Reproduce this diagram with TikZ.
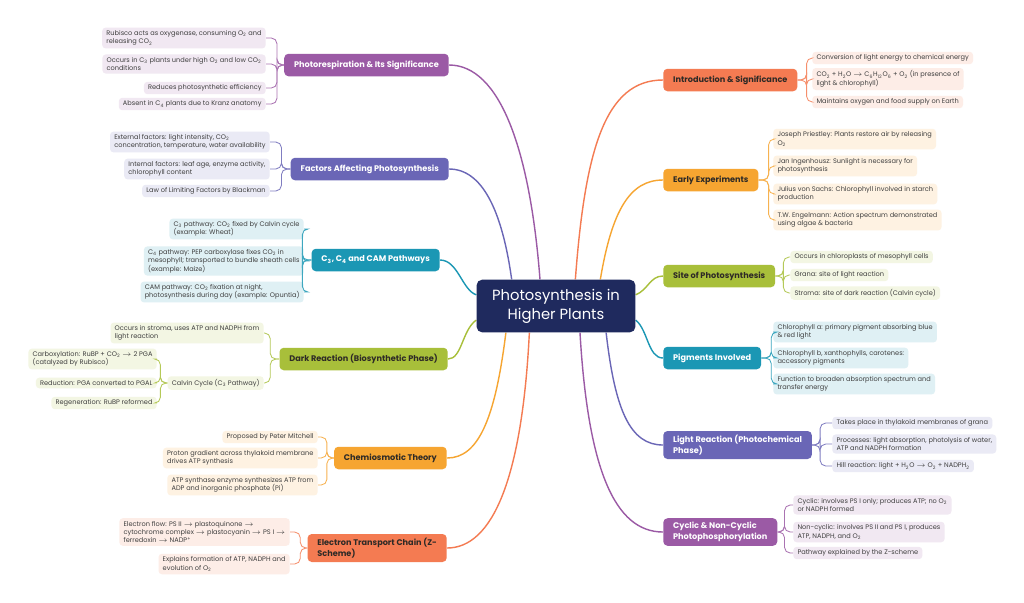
\documentclass[tikz,border=0pt]{standalone}
\usepackage{fontspec}
\setmainfont{Poppins}
\usetikzlibrary{backgrounds}
\definecolor{hubblue}{HTML}{1F2A5E}
\definecolor{cCoral}{HTML}{F47B52}
\definecolor{cAmber}{HTML}{F6A531}
\definecolor{cOlive}{HTML}{A8BF3A}
\definecolor{cTeal}{HTML}{1B97B4}
\definecolor{cViolet}{HTML}{6A66B6}
\definecolor{cPlum}{HTML}{9B5AA5}
\definecolor{leaftext}{HTML}{404040}
\definecolor{darktext}{HTML}{2E2A26}
\newcommand{\leaffont}{\fontsize{4.7}{6}\selectfont}
\newcommand{\branchfont}{\fontsize{5.8}{7.4}\selectfont\bfseries}
\newcommand{\sub}[1]{\textsubscript{#1}}
\newcommand{\ra}{$\rightarrow$}
\begin{document}
\begin{tikzpicture}[x=0.25mm, y=-0.25mm,
    hub/.style={fill=hubblue, text=white, rounded corners=4, minimum width=113pt,
      minimum height=37.5pt, align=center, font=\fontsize{10.5}{13.5}\selectfont},
    branch/.style={fill=#1, rounded corners=3, inner xsep=7, inner ysep=3,
      minimum height=16pt, align=left, font=\branchfont},
    leaf/.style={fill=#1!14, rounded corners=2.5, inner xsep=3, inner ysep=2,
      align=left, text=leaftext, font=\leaffont},
    stem/.style={draw=#1, line width=1pt},
    twig/.style={draw=#1!85, line width=0.6pt, rounded corners=4}]

  \node[hub] (hub) at (556,306) {Photosynthesis in\\Higher Plants};

  % right side
  \node[branch=cCoral, text=darktext, anchor=west] (intro) at (663,80) {Introduction \& Significance};
  \node[leaf=cCoral, anchor=west] (i1) at (812,58) {Conversion of light energy to chemical energy};
  \node[leaf=cCoral, anchor=west] (i2) at (812,79) {CO\sub{2} + H\sub{2}O \ra{} C\sub{6}H\sub{12}O\sub{6} + O\sub{2} (in presence of\\light \& chlorophyll)};
  \node[leaf=cCoral, anchor=west] (i3) at (812,102) {Maintains oxygen and food supply on Earth};

  \node[branch=cAmber, text=darktext, anchor=west] (early) at (663,180) {Early Experiments};
  \node[leaf=cAmber, anchor=west] (e1) at (773,139) {Joseph Priestley: Plants restore air by releasing\\O\sub{2}};
  \node[leaf=cAmber, anchor=west] (e2) at (773,166) {Jan Ingenhousz: Sunlight is necessary for\\photosynthesis};
  \node[leaf=cAmber, anchor=west] (e3) at (773,194) {Julius von Sachs: Chlorophyll involved in starch\\production};
  \node[leaf=cAmber, anchor=west] (e4) at (773,220) {T.W. Engelmann: Action spectrum demonstrated\\using algae \& bacteria};

  \node[branch=cOlive, text=darktext, anchor=west] (site) at (663,276) {Site of Photosynthesis};
  \node[leaf=cOlive, anchor=west] (s1) at (790,257) {Occurs in chloroplasts of mesophyll cells};
  \node[leaf=cOlive, anchor=west] (s2) at (790,275) {Grana: site of light reaction};
  \node[leaf=cOlive, anchor=west] (s3) at (790,293) {Stroma: site of dark reaction (Calvin cycle)};

  \node[branch=cTeal, text=white, anchor=west] (pigm) at (663,358) {Pigments Involved};
  \node[leaf=cTeal, anchor=west] (p1) at (773,332) {Chlorophyll a: primary pigment absorbing blue\\\& red light};
  \node[leaf=cTeal, anchor=west] (p2) at (773,358) {Chlorophyll b, xanthophylls, carotenes:\\accessory pigments};
  \node[leaf=cTeal, anchor=west] (p3) at (773,384) {Function to broaden absorption spectrum and\\transfer energy};

  \node[branch=cViolet, text=white, anchor=west] (light) at (663,445) {Light Reaction (Photochemical\\Phase)};
  \node[leaf=cViolet, anchor=west] (l1) at (832,423) {Takes place in thylakoid membranes of grana};
  \node[leaf=cViolet, anchor=west] (l2) at (832,444) {Processes: light absorption, photolysis of water,\\ATP and NADPH formation};
  \node[leaf=cViolet, anchor=west] (l3) at (832,466) {Hill reaction: light + H\sub{2}O \ra{} O\sub{2} + NADPH\sub{2}};

  \node[branch=cPlum, text=white, anchor=west] (cyclic) at (663,532) {Cyclic \& Non-Cyclic\\Photophosphorylation};
  \node[leaf=cPlum, anchor=west] (c1) at (793,505) {Cyclic: involves PS I only; produces ATP; no O\sub{2}\\or NADPH formed};
  \node[leaf=cPlum, anchor=west] (c2) at (793,532) {Non-cyclic: involves PS II and PS I, produces\\ATP, NADPH, and O\sub{2}};
  \node[leaf=cPlum, anchor=west] (c3) at (793,553) {Pathway explained by the Z-scheme};

  % left side
  \node[branch=cPlum, text=white, anchor=east] (photo) at (449,65) {Photorespiration \& Its Significance};
  \node[leaf=cPlum, anchor=east] (r1) at (266,38) {Rubisco acts as oxygenase, consuming O\sub{2} and\\releasing CO\sub{2}};
  \node[leaf=cPlum, anchor=east] (r2) at (266,64) {Occurs in C\sub{3} plants under high O\sub{2} and low CO\sub{2}\\conditions};
  \node[leaf=cPlum, anchor=east] (r3) at (266,88) {Reduces photosynthetic efficiency};
  \node[leaf=cPlum, anchor=east] (r4) at (266,104) {Absent in C\sub{4} plants due to Kranz anatomy};

  \node[branch=cViolet, text=white, anchor=east] (factors) at (449,169) {Factors Affecting Photosynthesis};
  \node[leaf=cViolet, anchor=east] (f1) at (270,142) {External factors: light intensity, CO\sub{2}\\concentration, temperature, water availability};
  \node[leaf=cViolet, anchor=east] (f2) at (270,169) {Internal factors: leaf age, enzyme activity,\\chlorophyll content};
  \node[leaf=cViolet, anchor=east] (f3) at (270,191) {Law of Limiting Factors by Blackman};

  \node[branch=cTeal, text=white, anchor=east] (paths) at (440,260) {C\sub{3}, C\sub{4} and CAM Pathways};
  \node[leaf=cTeal, anchor=east] (a1) at (304,229) {C\sub{3} pathway: CO\sub{2} fixed by Calvin cycle\\(example: Wheat)};
  \node[leaf=cTeal, anchor=east] (a2) at (304,261) {C\sub{4} pathway: PEP carboxylase fixes CO\sub{2} in\\mesophyll; transported to bundle sheath cells\\(example: Maize)};
  \node[leaf=cTeal, anchor=east] (a3) at (304,292) {CAM pathway: CO\sub{2} fixation at night,\\photosynthesis during day (example: Opuntia)};

  \node[branch=cOlive, text=darktext, anchor=east] (dark) at (448,359) {Dark Reaction (Biosynthetic Phase)};
  \node[leaf=cOlive, anchor=east] (d1) at (264,333) {Occurs in stroma, uses ATP and NADPH from\\light reaction};
  \node[leaf=cOlive, anchor=east] (calvin) at (264,383) {Calvin Cycle (C\sub{3} Pathway)};
  \node[leaf=cOlive, anchor=east] (k1) at (157,359) {Carboxylation: RuBP + CO\sub{2} \ra{} 2 PGA\\(catalyzed by Rubisco)};
  \node[leaf=cOlive, anchor=east] (k2) at (157,383) {Reduction: PGA converted to PGAL};
  \node[leaf=cOlive, anchor=east] (k3) at (157,403) {Regeneration: RuBP reformed};

  \node[branch=cAmber, text=darktext, anchor=east] (chemi) at (447,458) {Chemiosmotic Theory};
  \node[leaf=cAmber, anchor=east] (m1) at (318,437) {Proposed by Peter Mitchell};
  \node[leaf=cAmber, anchor=east] (m2) at (318,458) {Proton gradient across thylakoid membrane\\drives ATP synthesis};
  \node[leaf=cAmber, anchor=east] (m3) at (318,485) {ATP synthase enzyme synthesizes ATP from\\ADP and inorganic phosphate (Pi)};

  \node[branch=cCoral, text=darktext, anchor=east] (etc) at (447,548) {Electron Transport Chain (Z-\\Scheme)};
  \node[leaf=cCoral, anchor=east] (t1) at (290,532) {Electron flow: PS II \ra{} plastoquinone \ra{}\\cytochrome complex \ra{} plastocyanin \ra{} PS I \ra{}\\ferredoxin \ra{} NADP\textsuperscript{+}};
  \node[leaf=cCoral, anchor=east] (t2) at (290,564) {Explains formation of ATP, NADPH and\\evolution of O\sub{2}};

  % leaf brackets
  \foreach \n in {i1,i2,i3} \draw[twig=cCoral] (intro.east) -- ++(9,0) |- (\n.west);
  \foreach \n in {e1,e2,e3,e4} \draw[twig=cAmber] (early.east) -- ++(10,0) |- (\n.west);
  \foreach \n in {s1,s2,s3} \draw[twig=cOlive] (site.east) -- ++(8,0) |- (\n.west);
  \foreach \n in {p1,p2,p3} \draw[twig=cTeal] (pigm.east) -- ++(10,0) |- (\n.west);
  \foreach \n in {l1,l2,l3} \draw[twig=cViolet] (light.east) -- ++(8,0) |- (\n.west);
  \foreach \n in {c1,c2,c3} \draw[twig=cPlum] (cyclic.east) -- ++(7,0) |- (\n.west);
  \foreach \n in {r1,r2,r3,r4} \draw[twig=cPlum] (photo.west) -- ++(-7,0) |- (\n.east);
  \foreach \n in {f1,f2,f3} \draw[twig=cViolet] (factors.west) -- ++(-9,0) |- (\n.east);
  \foreach \n in {a1,a2,a3} \draw[twig=cTeal] (paths.west) -- ++(-9,0) |- (\n.east);
  \foreach \n in {d1,calvin} \draw[twig=cOlive] (dark.west) -- ++(-9,0) |- (\n.east);
  \foreach \n in {k1,k2,k3} \draw[twig=cOlive] (calvin.west) -- ++(-7,0) |- (\n.east);
  \foreach \n in {m1,m2,m3} \draw[twig=cAmber] (chemi.west) -- ++(-7,0) |- (\n.east);
  \foreach \n in {t1,t2} \draw[twig=cCoral] (etc.west) -- ++(-7,0) |- (\n.east);

  \begin{scope}[on background layer]
    \fill[white] (0,0) rectangle (1024,602);
    \draw[stem=cCoral] (hub.54) .. controls (585,150) and (605,80) .. (intro.west);
    \draw[stem=cAmber] (hub.31) .. controls (612,210) and (630,180) .. (early.west);
    \draw[stem=cOlive] (hub.8) .. controls (648,290) and (650,276) .. (site.west);
    \draw[stem=cTeal] (hub.-10) .. controls (648,330) and (648,358) .. (pigm.west);
    \draw[stem=cViolet] (hub.-28) .. controls (615,410) and (630,445) .. (light.west);
    \draw[stem=cPlum] (hub.-48) .. controls (588,470) and (615,532) .. (cyclic.west);
    \draw[stem=cPlum] (hub.121) .. controls (530,150) and (500,65) .. (photo.east);
    \draw[stem=cViolet] (hub.149) .. controls (502,210) and (482,169) .. (factors.east);
    \draw[stem=cTeal] (hub.172) .. controls (462,290) and (458,260) .. (paths.east);
    \draw[stem=cOlive] (hub.190) .. controls (462,330) and (462,359) .. (dark.east);
    \draw[stem=cAmber] (hub.208) .. controls (495,420) and (478,458) .. (chemi.east);
    \draw[stem=cCoral] (hub.225) .. controls (522,480) and (492,548) .. (etc.east);
  \end{scope}
\end{tikzpicture}
\end{document}
